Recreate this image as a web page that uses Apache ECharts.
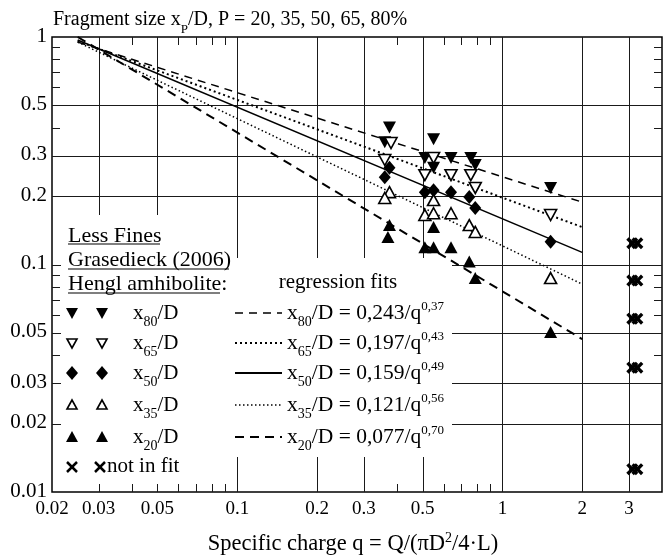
<!DOCTYPE html>
<html>
<head>
<meta charset="utf-8">
<script src="https://cdn.jsdelivr.net/npm/echarts@6/dist/echarts.min.js"></script>
<style>
  html, body { margin: 0; padding: 0; background: #fff; }
  #main { width: 667px; height: 559px; }
</style>
</head>
<body>
<div id="main"></div>
<script>
// axis ticks and labels
var xGrid = [0.03, 0.05, 0.1, 0.2, 0.3, 0.5, 1, 2, 3];
var xMinor = [0.04, 0.06, 0.07, 0.08, 0.09, 0.4, 0.6, 0.7, 0.8, 0.9];
var xLabels = [0.02, 0.03, 0.05, 0.1, 0.2, 0.3, 0.5, 1, 2, 3];
var yGrid = [0.5, 0.3, 0.2, 0.1, 0.05, 0.03, 0.02];
var yMinor = [0.9, 0.8, 0.7, 0.6, 0.4, 0.09, 0.08, 0.07, 0.06, 0.04];
var yLabels = [1, 0.5, 0.3, 0.2, 0.1, 0.05, 0.03, 0.02, 0.01];

// measured points [q, x_p/D]
var x80 = [[0.375,0.40],[0.36,0.345],[0.55,0.355],[0.51,0.294],[0.55,0.266],[0.64,0.294],[0.76,0.294],[0.79,0.274],[1.52,0.217]];
var x65 = [[0.38,0.342],[0.36,0.288],[0.55,0.294],[0.51,0.247],[0.64,0.247],[0.76,0.247],[0.79,0.217],[1.52,0.165]];
var x50 = [[0.375,0.266],[0.36,0.242],[0.51,0.208],[0.55,0.212],[0.64,0.208],[0.75,0.198],[0.79,0.177],[1.52,0.126]];
var x35 = [[0.375,0.208],[0.36,0.196],[0.55,0.192],[0.51,0.165],[0.55,0.168],[0.64,0.168],[0.75,0.149],[0.79,0.139],[1.52,0.0872]];
var x20 = [[0.375,0.149],[0.37,0.132],[0.55,0.146],[0.51,0.119],[0.55,0.119],[0.64,0.119],[0.75,0.103],[0.79,0.0872],[1.52,0.0505]];
var notFit = [[3.09,0.124],[3.23,0.124],[3.09,0.085],[3.23,0.085],[3.09,0.0578],[3.23,0.0578],[3.09,0.0352],[3.23,0.0352],[3.09,0.0126],[3.23,0.0126]];

// regression fit end points
var fit80 = [[0.025,0.95],[2,0.188]];
var fit65 = [[0.025,0.96],[2,0.146]];
var fit50 = [[0.025,0.97],[2,0.113]];
var fit35 = [[0.025,0.95],[2,0.082]];
var fit20 = [[0.025,1.0],[2,0.047]];

var xMin = 0.02, xMax = 4, yMin = 0.01, yMax = 1;
var FONT = '"Liberation Serif", "Times New Roman", serif';
var crossPath = 'path://M0,2 L2,0 L5,3 L8,0 L10,2 L7,5 L10,8 L8,10 L5,7 L2,10 L0,8 L3,5 Z';

function px(v) { return Math.round(v) + 0.5; }

function lineEl(x1, y1, x2, y2, w) {
	return {type: 'line', shape: {x1: x1, y1: y1, x2: x2, y2: y2}, style: {stroke: '#1a1a1a', lineWidth: w || 1}};
}

function axisSeries(values, isX, render) {
	return {
		type: 'custom', silent: true, z: 1, clip: false,
		data: values.map(function(v){ return isX ? [v, yMin] : [xMin, v]; }),
		renderItem: render
	};
}

var series = [
	// vertical grid lines
	axisSeries(xGrid, true, function(params, api){
		var a = api.coord([api.value(0), yMin]), b = api.coord([api.value(0), yMax]);
		return lineEl(px(a[0]), a[1], px(a[0]), b[1]);
	}),
	// horizontal grid lines
	axisSeries(yGrid, false, function(params, api){
		var a = api.coord([xMin, api.value(1)]), b = api.coord([xMax, api.value(1)]);
		return lineEl(a[0], px(a[1]), b[0], px(a[1]));
	}),
	// minor ticks on x (top and bottom)
	axisSeries(xMinor, true, function(params, api){
		var a = api.coord([api.value(0), yMin]), b = api.coord([api.value(0), yMax]);
		return {type: 'group', children: [
			lineEl(px(a[0]), a[1], px(a[0]), a[1] - 8),
			lineEl(px(a[0]), b[1], px(a[0]), b[1] + 8)
		]};
	}),
	// minor ticks on y (left and right)
	axisSeries(yMinor, false, function(params, api){
		var a = api.coord([xMin, api.value(1)]), b = api.coord([xMax, api.value(1)]);
		return {type: 'group', children: [
			lineEl(a[0], px(a[1]), a[0] + 8, px(a[1])),
			lineEl(b[0], px(a[1]), b[0] - 8, px(a[1]))
		]};
	}),
	// x labels
	axisSeries(xLabels, true, function(params, api){
		var a = api.coord([api.value(0), yMin]);
		return {type: 'text', x: a[0], y: a[1] + 17, style: {
			text: String(api.value(0)), font: '19px ' + FONT, fill: '#000',
			align: 'center', textAlign: 'center', verticalAlign: 'middle', textVerticalAlign: 'middle'
		}};
	}),
	// y labels
	axisSeries(yLabels, false, function(params, api){
		var a = api.coord([xMin, api.value(1)]);
		return {type: 'text', x: a[0] - 5, y: a[1] - 1, style: {
			text: String(api.value(1)), font: '21px ' + FONT, fill: '#000',
			align: 'right', textAlign: 'right', verticalAlign: 'middle', textVerticalAlign: 'middle'
		}};
	})
];

function fitLine(data, dash, w) {
	return {type: 'line', data: data, showSymbol: false, silent: true, z: 4,
		lineStyle: {color: '#000', width: w, type: dash}};
}
series.push(fitLine(fit80, [8, 6], 1.5));
series.push(fitLine(fit65, [2, 3], 2));
series.push(fitLine(fit50, 'solid', 1.5));
series.push(fitLine(fit35, [1.5, 2.5], 1.5));
series.push(fitLine(fit20, [9, 6], 2));

function pts(data, symbol, rot, open, size) {
	return {type: 'scatter', data: data, symbol: symbol, symbolRotate: rot, symbolSize: size, z: 5, silent: true,
		itemStyle: open ? {color: '#fff', borderColor: '#000', borderWidth: 1.6, opacity: 1} : {color: '#000', opacity: 1}};
}
series.push(pts(x80, 'triangle', 180, false, [13, 12]));
series.push(pts(x65, 'triangle', 180, true, [12, 11]));
series.push(pts(x50, 'diamond', 0, false, [12, 14]));
series.push(pts(x35, 'triangle', 0, true, [12, 11]));
series.push(pts(x20, 'triangle', 0, false, [13, 12]));
series.push(pts(notFit, crossPath, 0, false, [12, 12]));

// legend drawing
function richFor(size) {
	return {
		s: {fontSize: Math.round(size * 0.65), fontFamily: 'Liberation Serif', verticalAlign: 'bottom', lineHeight: 26, padding: [0, 0, -3, 0]},
		p: {fontSize: Math.round(size * 0.6), fontFamily: 'Liberation Serif', verticalAlign: 'top', lineHeight: 26}
	};
}
function txt(x, y, s, size, align) {
	size = size || 20;
	return {type: 'text', x: x, y: y, z: 10, silent: true, style: {
		text: s, font: size + 'px ' + FONT, fill: '#000', lineHeight: 26,
		align: align || 'left', verticalAlign: 'middle', rich: richFor(size)
	}};
}
function glyph(kind, cx, cy) {
	var black = {fill: '#000'}, open = {fill: '#fff', stroke: '#000', lineWidth: 1.6};
	if (kind === 'down') return {type: 'polygon', z: 10, shape: {points: [[cx-6,cy-5],[cx+6,cy-5],[cx,cy+6]]}, style: black};
	if (kind === 'downOpen') return {type: 'polygon', z: 10, shape: {points: [[cx-5,cy-4],[cx+5,cy-4],[cx,cy+5]]}, style: open};
	if (kind === 'diamond') return {type: 'polygon', z: 10, shape: {points: [[cx,cy-7],[cx+6,cy],[cx,cy+7],[cx-6,cy]]}, style: black};
	if (kind === 'upOpen') return {type: 'polygon', z: 10, shape: {points: [[cx-5,cy+4],[cx+5,cy+4],[cx,cy-5]]}, style: open};
	if (kind === 'up') return {type: 'polygon', z: 10, shape: {points: [[cx-6,cy+5],[cx+6,cy+5],[cx,cy-6]]}, style: black};
	return {type: 'group', z: 10, children: [
		{type: 'line', z: 10, shape: {x1: cx-5, y1: cy-5, x2: cx+5, y2: cy+5}, style: {stroke: '#000', lineWidth: 2.5}},
		{type: 'line', z: 10, shape: {x1: cx+5, y1: cy-5, x2: cx-5, y2: cy+5}, style: {stroke: '#000', lineWidth: 2.5}}
	]};
}
function sample(y, dash, w) {
	return {type: 'line', z: 10, shape: {x1: 235, y1: y, x2: 282, y2: y}, style: {stroke: '#000', lineWidth: w, lineDash: dash}};
}

var rows = [
	{y: 313, g: 'down', lab: 'x{s|80}/D', fit: 'x{s|80}/D = 0,243/q{p|0,37}', dash: [8, 6], w: 1.5},
	{y: 343, g: 'downOpen', lab: 'x{s|65}/D', fit: 'x{s|65}/D = 0,197/q{p|0,43}', dash: [2, 3], w: 2},
	{y: 373, g: 'diamond', lab: 'x{s|50}/D', fit: 'x{s|50}/D = 0,159/q{p|0,49}', dash: null, w: 2},
	{y: 405, g: 'upOpen', lab: 'x{s|35}/D', fit: 'x{s|35}/D = 0,121/q{p|0,56}', dash: [1.5, 2.5], w: 1.5},
	{y: 437, g: 'up', lab: 'x{s|20}/D', fit: 'x{s|20}/D = 0,077/q{p|0,70}', dash: [9, 6], w: 2.2}
];

var graphics = [
	{type: 'rect', z: 3, silent: true, shape: {x: 61, y: 215, width: 176, height: 269}, style: {fill: '#fff'}},
	{type: 'rect', z: 3, silent: true, shape: {x: 236, y: 258, width: 216, height: 199}, style: {fill: '#fff'}},
	txt(53, 20, 'Fragment size x{s|P}/D, P = 20, 35, 50, 65, 80%', 20),
	txt(353, 544, 'Specific charge q = Q/(\u03c0D{p|2}/4\u00b7L)', 22.5, 'center'),
	txt(68, 236, 'Less Fines', 22),
	txt(68, 260, 'Grasedieck (2006)', 22),
	txt(68, 284, 'Hengl amhibolite:', 22),
	{type: 'line', z: 10, shape: {x1: 68, y1: 244, x2: 160, y2: 244}, style: {stroke: '#000', lineWidth: 1.2}},
	{type: 'line', z: 10, shape: {x1: 68, y1: 269, x2: 229, y2: 269}, style: {stroke: '#000', lineWidth: 1.2}},
	{type: 'line', z: 10, shape: {x1: 68, y1: 293, x2: 220, y2: 293}, style: {stroke: '#000', lineWidth: 1.2}},
	txt(338, 282, 'regression fits', 21, 'center')
];
rows.forEach(function(r){
	graphics.push(glyph(r.g, 72, r.y));
	graphics.push(glyph(r.g, 102, r.y));
	graphics.push(txt(133, r.y, r.lab, 21));
	graphics.push(sample(r.y, r.dash, r.w));
	graphics.push(txt(287, r.y, r.fit, 21.5));
});
graphics.push(glyph('x', 72, 467));
graphics.push(glyph('x', 100, 467));
graphics.push(txt(107, 466, 'not in fit', 21));

var myChart = echarts.init(document.getElementById('main'));
var option = {
	animation: false,
	backgroundColor: '#fff',
	grid: {left: 52, right: 5, top: 37, bottom: 67, show: true, borderColor: '#000', borderWidth: 1.5},
	xAxis: {type: 'log', logBase: 10, min: xMin, max: xMax,
		axisLine: {show: false}, axisTick: {show: false}, axisLabel: {show: false}, splitLine: {show: false}},
	yAxis: {type: 'log', logBase: 10, min: yMin, max: yMax,
		axisLine: {show: false}, axisTick: {show: false}, axisLabel: {show: false}, splitLine: {show: false}},
	graphic: graphics,
	series: series
};
myChart.setOption(option);
</script>
</body>
</html>
